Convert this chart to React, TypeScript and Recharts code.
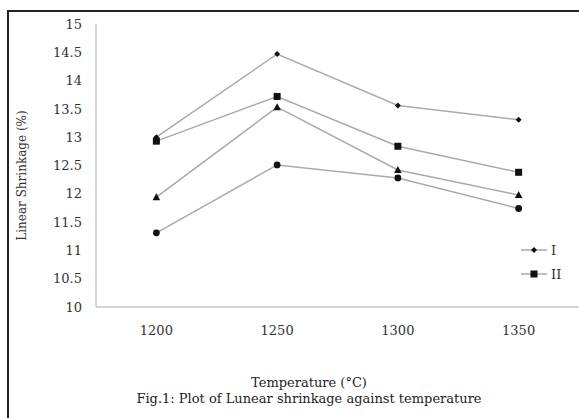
import { LineChart, Line, XAxis, YAxis, Legend } from "recharts";

const temperatures = ["1200", "1250", "1300", "1350"];
const seriesI = [13.0, 14.47, 13.56, 13.31];
const seriesII = [12.93, 13.72, 12.84, 12.38];
const seriesIII = [11.94, 13.53, 12.42, 11.98];
const seriesIV = [11.31, 12.51, 12.28, 11.74];
const yTicks = [10, 10.5, 11, 11.5, 12, 12.5, 13, 13.5, 14, 14.5, 15];
const legendNames = ["I", "II"];

const data = temperatures.map((t, i) => ({
  t,
  I: seriesI[i],
  II: seriesII[i],
  III: seriesIII[i],
  IV: seriesIV[i],
}));

const FONT = "'DejaVu Serif', serif";
const LINE = "#aaaaaa";
const MARK = "#111111";

type Shape = "diamond" | "square" | "triangle" | "circle";

function marker(shape: Shape, cx: number, cy: number, key?: string | number) {
  if (shape === "square") return <rect key={key} x={cx - 3.5} y={cy - 3.5} width={7} height={7} fill={MARK} />;
  if (shape === "triangle")
    return <path key={key} d={`M${cx},${cy - 4} L${cx + 3.8},${cy + 3} L${cx - 3.8},${cy + 3} Z`} fill={MARK} />;
  if (shape === "circle") return <circle key={key} cx={cx} cy={cy} r={3.4} fill={MARK} />;
  return <path key={key} d={`M${cx},${cy - 3} L${cx + 3},${cy} L${cx},${cy + 3} L${cx - 3},${cy} Z`} fill={MARK} />;
}

const dotFor = (shape: Shape) => (p: any) => marker(shape, p.cx, p.cy, `${shape}-${p.index}`);

function LegendBox() {
  const shapes: Shape[] = ["diamond", "square"];
  return (
    <div style={{ fontFamily: FONT, fontSize: 13, color: "#333" }}>
      {legendNames.map((name, i) => (
        <div key={name} style={{ display: "flex", alignItems: "center", height: 24 }}>
          <svg width={28} height={12}>
            <line x1={0} y1={6} x2={26} y2={6} stroke={LINE} strokeWidth={1.5} />
            {marker(shapes[i], 13, 6)}
          </svg>
          <span style={{ marginLeft: 2 }}>{name}</span>
        </div>
      ))}
    </div>
  );
}

export default function App() {
  return (
    <div style={{ position: "absolute", left: 0, top: 0, width: 579, height: 418, overflow: "hidden", background: "#fff" }}>
      <div
        style={{
          position: "absolute",
          left: 7,
          top: 10,
          width: 620,
          height: 460,
          border: "2px solid #222",
          boxSizing: "border-box",
        }}
      />
      <div style={{ position: "absolute", left: 0, top: 0 }}>
        <LineChart width={579} height={418} data={data} margin={{ top: 24, right: 0, bottom: 0, left: 0 }}>
          <XAxis
            dataKey="t"
            scale="band"
            height={111}
            tickLine={false}
            tickSize={0}
            tickMargin={19}
            axisLine={{ stroke: "#c8c8c8", strokeWidth: 1.5 }}
            tick={{ fontFamily: FONT, fontSize: 13, fill: "#333" }}
          />
          <YAxis
            width={96}
            domain={[10, 15]}
            ticks={yTicks}
            interval={0}
            tickLine={false}
            tickSize={0}
            tickMargin={14}
            axisLine={{ stroke: "#c8c8c8", strokeWidth: 1.5 }}
            tick={{ fontFamily: FONT, fontSize: 13, fill: "#333" }}
            tickFormatter={(v) => String(v)}
            label={{
              value: "Linear Shrinkage (%)",
              angle: -90,
              position: "center",
              dx: -26,
              dy: 10,
              style: { fontFamily: FONT, fontSize: 12, fill: "#333", textAnchor: "middle" },
            }}
          />
          <Legend
            layout="horizontal"
            verticalAlign="middle"
            align="center"
            wrapperStyle={{ left: 521, top: 238, width: 58 }}
            content={() => <LegendBox />}
          />
          <Line dataKey="I" name="I" stroke={LINE} strokeWidth={1.5} dot={dotFor("diamond")} isAnimationActive={false} />
          <Line dataKey="II" name="II" stroke={LINE} strokeWidth={1.5} dot={dotFor("square")} isAnimationActive={false} />
          <Line dataKey="III" name="III" stroke={LINE} strokeWidth={1.5} dot={dotFor("triangle")} isAnimationActive={false} />
          <Line dataKey="IV" name="IV" stroke={LINE} strokeWidth={1.5} dot={dotFor("circle")} isAnimationActive={false} />
        </LineChart>
      </div>
      <div
        style={{
          position: "absolute",
          left: 0,
          width: 618,
          top: 375,
          textAlign: "center",
          fontFamily: FONT,
          fontSize: 13,
          color: "#222",
          lineHeight: "16px",
        }}
      >
        <div>Temperature (°C)</div>
        <div>Fig.1: Plot of Lunear shrinkage against temperature</div>
      </div>
    </div>
  );
}
